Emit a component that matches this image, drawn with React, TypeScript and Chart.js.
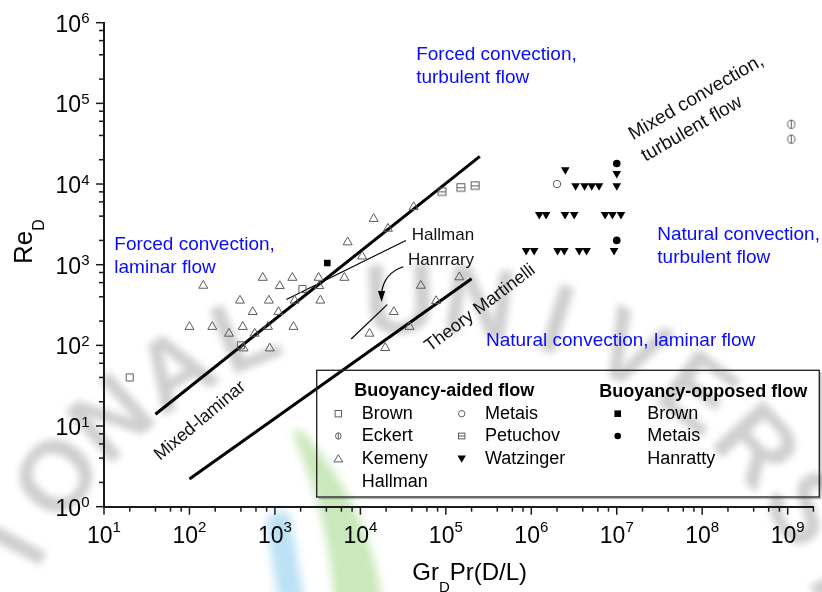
import { useEffect, useRef } from 'react';
import { Chart, registerables } from 'chart.js';

Chart.register(...registerables);

const FONT = 'Arial, "Liberation Sans", Helvetica, sans-serif';
const BLUE = '#0a0aff';
const GRAY = '#5c5c5c';
const INK = '#111111';

// ---- Buoyancy-aided flow ----
const brownAided = [
  { x: 20, y: 40 },
  { x: 400, y: 100 },
  { x: 2100, y: 500 },
];
const eckert = [
  { x: 1.1e9, y: 55000 },
  { x: 1.1e9, y: 36000 },
];
const kemenyHallman = [
  { x: 100, y: 170 }, { x: 145, y: 550 }, { x: 185, y: 170 }, { x: 290, y: 140 },
  { x: 390, y: 360 }, { x: 420, y: 170 }, { x: 430, y: 92 }, { x: 550, y: 260 },
  { x: 580, y: 140 }, { x: 720, y: 690 }, { x: 830, y: 170 }, { x: 850, y: 360 },
  { x: 870, y: 92 }, { x: 1100, y: 260 }, { x: 1140, y: 545 }, { x: 1600, y: 690 },
  { x: 1650, y: 170 }, { x: 1700, y: 360 }, { x: 3250, y: 690 }, { x: 3300, y: 545 },
  { x: 3400, y: 360 }, { x: 6500, y: 690 }, { x: 7100, y: 1900 }, { x: 10500, y: 1270 },
  { x: 12800, y: 140 }, { x: 14300, y: 3700 }, { x: 19500, y: 93 }, { x: 21000, y: 2800 },
  { x: 24600, y: 260 }, { x: 37600, y: 170 }, { x: 42000, y: 5200 }, { x: 51000, y: 550 },
  { x: 77000, y: 355 }, { x: 144000, y: 700 },
];
const metaisAided = [{ x: 2e6, y: 10000 }];
const petuchov = [
  { x: 9e4, y: 8000 },
  { x: 1.5e5, y: 9000 },
  { x: 2.2e5, y: 9500 },
];
const watzinger = [
  { x: 2.5e6, y: 15000 },
  { x: 3.3e6, y: 9500 }, { x: 4.2e6, y: 9500 }, { x: 5.1e6, y: 9500 }, { x: 6.2e6, y: 9500 },
  { x: 1.0e7, y: 9500 }, { x: 1.0e7, y: 13500 },
  { x: 1.24e6, y: 4200 }, { x: 1.49e6, y: 4200 }, { x: 2.48e6, y: 4200 }, { x: 3.18e6, y: 4200 },
  { x: 7.3e6, y: 4200 }, { x: 8.9e6, y: 4200 }, { x: 1.12e7, y: 4200 },
  { x: 8.7e5, y: 1500 }, { x: 1.08e6, y: 1500 }, { x: 2.03e6, y: 1500 }, { x: 2.43e6, y: 1500 },
  { x: 3.64e6, y: 1500 }, { x: 4.43e6, y: 1500 }, { x: 9.3e6, y: 1500 },
];

// ---- Buoyancy-opposed flow ----
const brownOpposed = [{ x: 4100, y: 1050 }];
const metaisOpposed = [
  { x: 1e7, y: 18000 },
  { x: 1e7, y: 2000 },
];

// ---- Regime boundaries and correlations ----
const mixedLaminarLine = [{ x: 40, y: 14 }, { x: 2.5e5, y: 22000 }];
const martinelliLine = [{ x: 100, y: 2.2 }, { x: 2e5, y: 670 }];
const hallmanLine = [{ x: 1360, y: 370 }, { x: 34000, y: 2000 }];
const hanrattyLine = [{ x: 7800, y: 120 }, { x: 20600, y: 320 }];
// curved pointer from the "Hanrrary" label: start, control, tip
const hanrattyArrow = [{ x: 31800, y: 944 }, { x: 18900, y: 789 }, { x: 17700, y: 345 }];

// ---- Axes ----
const xRange = [10, 2e9];
const yRange = [1, 1e6];
const xDecades = [1, 2, 3, 4, 5, 6, 7, 8, 9];
const yDecades = [0, 1, 2, 3, 4, 5, 6];
const minorSteps = [2, 4, 6, 8];

// ---- Text placed in data space ----
const regionLabels = [
  { lines: ['Forced convection,', 'turbulent flow'], x: 4.5e4, y: 4.05e5, color: BLUE, size: 19 },
  { lines: ['Forced convection,', 'laminar flow'], x: 13.2, y: 1754, color: BLUE, size: 19 },
  { lines: ['Natural convection,', 'turbulent flow'], x: 2.98e7, y: 2333, color: BLUE, size: 19 },
  { lines: ['Natural convection, laminar flow'], x: 2.95e5, y: 113, color: BLUE, size: 19 },
  { lines: ['Hallman'], x: 39900, y: 2333, color: INK, size: 17 },
  { lines: ['Hanrrary'], x: 36060, y: 1143, color: INK, size: 17 },
];
const slantedLabels = [
  { lines: ['Mixed convection,', 'turbulent flow'], x: 1.55e7, y: 35000, size: 19, angle: -30 },
  { lines: ['Mixed-laminar'], x: 45.2, y: 3.68, size: 18, angle: -40 },
  { lines: ['Theory Martinelli'], x: 65300, y: 82.6, size: 18, angle: -37 },
];

const legendAided = [
  { kind: 'openSquare', text: 'Brown', col: 0, row: 0 },
  { kind: 'eckert', text: 'Eckert', col: 0, row: 1 },
  { kind: 'openTriangle', text: 'Kemeny', col: 0, row: 2 },
  { kind: 'none', text: 'Hallman', col: 0, row: 3 },
  { kind: 'openCircle', text: 'Metais', col: 1, row: 0 },
  { kind: 'petuchov', text: 'Petuchov', col: 1, row: 1 },
  { kind: 'filledDown', text: 'Watzinger', col: 1, row: 2 },
];
const legendOpposed = [
  { kind: 'filledSquare', text: 'Brown', row: 0 },
  { kind: 'filledCircle', text: 'Metais', row: 1 },
  { kind: 'none', text: 'Hanratty', row: 2 },
];

const sealWord = 'NATIONAL UNIVERSITY';

function markerCanvas(w: number, h: number, paint: (c: CanvasRenderingContext2D) => void) {
  const c = document.createElement('canvas');
  c.width = w;
  c.height = h;
  const g = c.getContext('2d') as CanvasRenderingContext2D;
  paint(g);
  return c;
}

function drawMarker(ctx: CanvasRenderingContext2D, kind: string, x: number, y: number, s: number) {
  ctx.save();
  ctx.lineWidth = 1;
  ctx.strokeStyle = GRAY;
  ctx.fillStyle = '#000';
  ctx.beginPath();
  switch (kind) {
    case 'openSquare':
      ctx.strokeRect(x - s, y - s, 2 * s, 2 * s);
      break;
    case 'openCircle':
      ctx.arc(x, y, s, 0, Math.PI * 2);
      ctx.stroke();
      break;
    case 'eckert':
      ctx.ellipse(x, y, s * 0.85, s, 0, 0, Math.PI * 2);
      ctx.moveTo(x, y - s);
      ctx.lineTo(x, y + s);
      ctx.stroke();
      break;
    case 'petuchov':
      ctx.strokeRect(x - s, y - s * 0.9, 2 * s, 1.8 * s);
      ctx.moveTo(x - s, y);
      ctx.lineTo(x + s, y);
      ctx.stroke();
      break;
    case 'openTriangle':
      ctx.moveTo(x, y - s);
      ctx.lineTo(x + s * 1.1, y + s * 0.8);
      ctx.lineTo(x - s * 1.1, y + s * 0.8);
      ctx.closePath();
      ctx.stroke();
      break;
    case 'filledDown':
      ctx.moveTo(x - s * 1.05, y - s * 0.8);
      ctx.lineTo(x + s * 1.05, y - s * 0.8);
      ctx.lineTo(x, y + s);
      ctx.closePath();
      ctx.fill();
      break;
    case 'filledSquare':
      ctx.fillRect(x - s, y - s, 2 * s, 2 * s);
      break;
    case 'filledCircle':
      ctx.arc(x, y, s, 0, Math.PI * 2);
      ctx.fill();
      break;
    default:
      break;
  }
  ctx.restore();
}

function drawSeal(ctx: CanvasRenderingContext2D) {
  ctx.save();
  ctx.filter = 'blur(3.5px)';
  ctx.fillStyle = 'rgba(160,160,160,0.5)';
  ctx.font = `bold 100px ${FONT}`;
  ctx.textAlign = 'center';
  ctx.textBaseline = 'middle';
  const cx = 420;
  const cy = 760;
  const r = 455;
  const step = 9.9;
  const start = -92.5 - 9 * step;
  for (let i = 0; i < sealWord.length; i++) {
    const ch = sealWord[i];
    if (ch === ' ') continue;
    const a = ((start + i * step) * Math.PI) / 180;
    ctx.save();
    ctx.translate(cx + r * Math.cos(a), cy + r * Math.sin(a));
    ctx.rotate(a + Math.PI / 2);
    ctx.fillText(ch, 0, 0);
    ctx.restore();
  }
  // coloured flame strokes of the emblem
  ctx.filter = 'blur(5px)';
  ctx.fillStyle = 'rgba(120,195,235,0.5)';
  ctx.beginPath();
  ctx.moveTo(266, 520);
  ctx.quadraticCurveTo(280, 505, 290, 515);
  ctx.lineTo(304, 600);
  ctx.lineTo(278, 600);
  ctx.closePath();
  ctx.fill();
  ctx.fillStyle = 'rgba(150,210,120,0.5)';
  ctx.beginPath();
  ctx.moveTo(292, 432);
  ctx.quadraticCurveTo(300, 425, 310, 440);
  ctx.quadraticCurveTo(370, 510, 382, 600);
  ctx.lineTo(334, 600);
  ctx.quadraticCurveTo(330, 520, 292, 432);
  ctx.closePath();
  ctx.fill();
  ctx.restore();
}

function drawPower(ctx: CanvasRenderingContext2D, exp: string, x: number, y: number, axis: 'x' | 'y') {
  const big = `23px ${FONT}`;
  const small = `15px ${FONT}`;
  ctx.font = big;
  const wb = ctx.measureText('10').width;
  ctx.font = small;
  const we = ctx.measureText(exp).width;
  ctx.textAlign = 'left';
  ctx.textBaseline = 'alphabetic';
  if (axis === 'x') {
    const left = x - (wb + we) / 2;
    ctx.font = big;
    ctx.fillText('10', left, y + 36.6);
    ctx.font = small;
    ctx.fillText(exp, left + wb, y + 25);
  } else {
    const right = x - 14.5;
    ctx.font = big;
    ctx.fillText('10', right - we - wb, y + 9);
    ctx.font = small;
    ctx.fillText(exp, right - we, y + 0.5);
  }
}

const decor = {
  id: 'figureDecor',
  beforeDraw(chart: any) {
    const ctx = chart.ctx as CanvasRenderingContext2D;
    ctx.save();
    ctx.fillStyle = '#ffffff';
    ctx.fillRect(0, 0, chart.width, chart.height);
    drawSeal(ctx);
    ctx.restore();
  },
  afterDatasetsDraw(chart: any) {
    const ctx = chart.ctx as CanvasRenderingContext2D;
    const xs = chart.scales.x;
    const ys = chart.scales.y;
    const p = hanrattyArrow.map((d) => ({ x: xs.getPixelForValue(d.x), y: ys.getPixelForValue(d.y) }));
    ctx.save();
    ctx.strokeStyle = '#000';
    ctx.fillStyle = '#000';
    ctx.lineWidth = 1.2;
    ctx.beginPath();
    ctx.moveTo(p[0].x, p[0].y);
    ctx.quadraticCurveTo(p[1].x, p[1].y, p[2].x, p[2].y - 9);
    ctx.stroke();
    ctx.beginPath();
    ctx.moveTo(p[2].x, p[2].y);
    ctx.lineTo(p[2].x - 3.6, p[2].y - 11);
    ctx.lineTo(p[2].x + 3.6, p[2].y - 11);
    ctx.closePath();
    ctx.fill();
    ctx.restore();
  },
  afterDraw(chart: any) {
    const ctx = chart.ctx as CanvasRenderingContext2D;
    const xs = chart.scales.x;
    const ys = chart.scales.y;
    const area = chart.chartArea;
    ctx.save();

    // tick marks (outside) and power-of-ten labels
    ctx.strokeStyle = '#1a1a1a';
    ctx.fillStyle = '#000';
    ctx.lineWidth = 1.5;
    const xTicks: { v: number; major: boolean }[] = [];
    xDecades.forEach((d) => {
      xTicks.push({ v: 10 ** d, major: true });
      minorSteps.forEach((m) => xTicks.push({ v: m * 10 ** d, major: false }));
    });
    xTicks.forEach((t) => {
      if (t.v < xRange[0] || t.v > xRange[1]) return;
      const px = xs.getPixelForValue(t.v);
      ctx.beginPath();
      ctx.moveTo(px, area.bottom);
      ctx.lineTo(px, area.bottom + (t.major ? 8 : 5));
      ctx.stroke();
    });
    const yTicks: { v: number; major: boolean }[] = [];
    yDecades.forEach((d) => {
      yTicks.push({ v: 10 ** d, major: true });
      minorSteps.forEach((m) => yTicks.push({ v: m * 10 ** d, major: false }));
    });
    yTicks.forEach((t) => {
      if (t.v < yRange[0] || t.v > yRange[1]) return;
      const py = ys.getPixelForValue(t.v);
      ctx.beginPath();
      ctx.moveTo(area.left, py);
      ctx.lineTo(area.left - (t.major ? 8 : 5), py);
      ctx.stroke();
    });
    xDecades.forEach((d) => drawPower(ctx, String(d), xs.getPixelForValue(10 ** d), area.bottom, 'x'));
    yDecades.forEach((d) => drawPower(ctx, String(d), area.left, ys.getPixelForValue(10 ** d), 'y'));

    // axis titles
    ctx.fillStyle = '#000';
    ctx.textAlign = 'left';
    ctx.textBaseline = 'alphabetic';
    const tBig = `24px ${FONT}`;
    const tSub = `15px ${FONT}`;
    {
      ctx.font = tBig;
      const wGr = ctx.measureText('Gr').width;
      const wRest = ctx.measureText('Pr(D/L)').width;
      ctx.font = tSub;
      const wD = ctx.measureText('D').width;
      const total = wGr + wD + wRest;
      const left = (area.left + area.right) / 2 + 11 - total / 2;
      const base = area.bottom + 73;
      ctx.font = tBig;
      ctx.fillText('Gr', left, base);
      ctx.font = tSub;
      ctx.fillText('D', left + wGr, base + 12.5);
      ctx.font = tBig;
      ctx.fillText('Pr(D/L)', left + wGr + wD, base);
    }
    {
      const yBig = `26px ${FONT}`;
      const ySub = `16px ${FONT}`;
      ctx.save();
      ctx.translate(31.5, (area.top + area.bottom) / 2 - 23);
      ctx.rotate(-Math.PI / 2);
      ctx.font = yBig;
      const wRe = ctx.measureText('Re').width;
      ctx.font = ySub;
      const wD = ctx.measureText('D').width;
      const left = -(wRe + wD) / 2;
      ctx.font = yBig;
      ctx.fillText('Re', left, 0);
      ctx.font = ySub;
      ctx.fillText('D', left + wRe, 12);
      ctx.restore();
    }

    // region and correlation labels
    regionLabels.forEach((l) => {
      const px = xs.getPixelForValue(l.x);
      const py = ys.getPixelForValue(l.y);
      ctx.fillStyle = l.color;
      ctx.font = `${l.size}px ${FONT}`;
      ctx.textAlign = 'left';
      ctx.textBaseline = 'middle';
      l.lines.forEach((s, i) => ctx.fillText(s, px, py + i * 23));
    });
    slantedLabels.forEach((l) => {
      const px = xs.getPixelForValue(l.x);
      const py = ys.getPixelForValue(l.y);
      ctx.save();
      ctx.translate(px, py);
      ctx.rotate((l.angle * Math.PI) / 180);
      ctx.fillStyle = INK;
      ctx.font = `${l.size}px ${FONT}`;
      ctx.textAlign = 'left';
      ctx.textBaseline = 'alphabetic';
      l.lines.forEach((s, i) => ctx.fillText(s, 0, i * 25));
      ctx.restore();
    });

    // legend panel
    const bx = 316.7;
    const by = 370.3;
    const bw = 502.6;
    const bh = 126.7;
    ctx.strokeStyle = 'rgba(0,0,0,0.25)';
    ctx.lineWidth = 1.5;
    ctx.beginPath();
    ctx.moveTo(bx + 2, by + bh + 1.5);
    ctx.lineTo(bx + bw + 1.5, by + bh + 1.5);
    ctx.lineTo(bx + bw + 1.5, by + 2);
    ctx.stroke();
    ctx.strokeStyle = '#2a2a2a';
    ctx.lineWidth = 1.4;
    ctx.strokeRect(bx, by, bw, bh);

    ctx.fillStyle = '#000';
    ctx.textAlign = 'left';
    ctx.textBaseline = 'middle';
    ctx.font = `bold 18px ${FONT}`;
    ctx.fillText('Buoyancy-aided flow', bx + 37.6, by + 21);
    ctx.fillText('Buoyancy-opposed flow', bx + 282.6, by + 21.7);
    const rowY = [43.4, 65.7, 88.4, 111.7];
    const markerX = [21.6, 145];
    const textX = [45, 168.3];
    legendAided.forEach((e) => {
      const y = by + rowY[e.row];
      drawMarker(ctx, e.kind, bx + markerX[e.col], y, e.kind === 'openTriangle' || e.kind === 'filledDown' ? 4 : 3.2);
      ctx.fillStyle = '#000';
      ctx.font = `18px ${FONT}`;
      ctx.fillText(e.text, bx + textX[e.col], y);
    });
    legendOpposed.forEach((e) => {
      const y = by + rowY[e.row];
      drawMarker(ctx, e.kind, bx + 301, y, 3.3);
      ctx.fillStyle = '#000';
      ctx.font = `18px ${FONT}`;
      ctx.fillText(e.text, bx + 330.6, y);
    });

    ctx.restore();
  },
};

export default function App() {
  const ref = useRef<HTMLCanvasElement>(null);

  useEffect(() => {
    const canvas = ref.current;
    if (!canvas) return;

    const eckertImg = markerCanvas(11, 11, (g) => {
      g.strokeStyle = GRAY;
      g.lineWidth = 1;
      g.beginPath();
      g.ellipse(5.5, 5.5, 3.6, 4.1, 0, 0, Math.PI * 2);
      g.moveTo(5.5, 1.2);
      g.lineTo(5.5, 9.8);
      g.stroke();
    });
    const petuchovImg = markerCanvas(11, 11, (g) => {
      g.strokeStyle = GRAY;
      g.lineWidth = 1;
      g.strokeRect(1.5, 1.5, 8, 7.5);
      g.beginPath();
      g.moveTo(1.5, 5.5);
      g.lineTo(9.5, 5.5);
      g.stroke();
    });

    const pts = (label: string, data: any[], style: any) => ({
      label,
      data,
      showLine: false,
      order: 0,
      pointBorderWidth: 1,
      ...style,
    });
    const line = (label: string, data: any[], width: number) => ({
      label,
      data,
      showLine: true,
      borderColor: '#000',
      borderWidth: width,
      pointRadius: 0,
      fill: false,
      order: 5,
      borderCapStyle: 'butt',
    });

    const chart = new Chart(canvas, {
      type: 'scatter',
      data: {
        datasets: [
          line('Mixed-laminar boundary', mixedLaminarLine, 3),
          line('Theory Martinelli', martinelliLine, 3),
          line('Hallman', hallmanLine, 1.2),
          line('Hanratty', hanrattyLine, 1.2),
          pts('Brown (aided)', brownAided, {
            pointStyle: 'rect', pointRadius: 5, pointBorderColor: GRAY, pointBackgroundColor: 'rgba(0,0,0,0)',
          }),
          pts('Eckert', eckert, { pointStyle: eckertImg, pointRadius: 5 }),
          pts('Kemeny Hallman', kemenyHallman, {
            pointStyle: 'triangle', pointRadius: 5.2, pointBorderColor: GRAY, pointBackgroundColor: 'rgba(0,0,0,0)',
          }),
          pts('Metais (aided)', metaisAided, {
            pointStyle: 'circle', pointRadius: 3.7, pointBorderColor: GRAY, pointBackgroundColor: 'rgba(0,0,0,0)',
          }),
          pts('Petuchov', petuchov, { pointStyle: petuchovImg, pointRadius: 5 }),
          pts('Watzinger', watzinger, {
            pointStyle: 'triangle', pointRotation: 180, pointRadius: 5, pointBorderWidth: 0,
            pointBackgroundColor: '#000', pointBorderColor: '#000',
          }),
          pts('Brown (opposed)', brownOpposed, {
            pointStyle: 'rect', pointRadius: 4.7, pointBorderWidth: 0, pointBackgroundColor: '#000',
          }),
          pts('Metais (opposed)', metaisOpposed, {
            pointStyle: 'circle', pointRadius: 3.8, pointBorderWidth: 0, pointBackgroundColor: '#000',
          }),
        ],
      },
      options: {
        responsive: false,
        animation: false,
        devicePixelRatio: 1,
        events: [],
        layout: { padding: { top: 22.7, right: 8.6, left: 0, bottom: 0 } },
        plugins: {
          legend: { display: false },
          tooltip: { enabled: false },
        },
        scales: {
          x: {
            type: 'logarithmic',
            position: 'bottom',
            min: xRange[0],
            max: xRange[1],
            grid: { display: false, drawTicks: false },
            border: { display: true, color: '#1a1a1a', width: 2 },
            ticks: { display: false },
            afterFit: (s: any) => {
              s.height = 85.3;
            },
          },
          y: {
            type: 'logarithmic',
            position: 'left',
            min: yRange[0],
            max: yRange[1],
            grid: { display: false, drawTicks: false },
            border: { display: true, color: '#1a1a1a', width: 2 },
            ticks: { display: false },
            afterFit: (s: any) => {
              s.width = 104;
            },
          },
        },
      } as any,
      plugins: [decor],
    });

    return () => chart.destroy();
  }, []);

  return (
    <div style={{ position: 'fixed', left: 0, top: 0, width: 822, height: 592, background: '#fff' }}>
      <canvas ref={ref} width={822} height={592} style={{ display: 'block', width: 822, height: 592 }} />
    </div>
  );
}
